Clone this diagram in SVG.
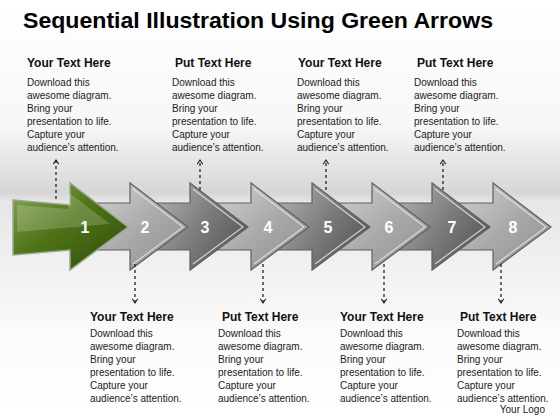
<svg xmlns="http://www.w3.org/2000/svg" width="560" height="420" viewBox="0 0 560 420">
<defs>
<linearGradient id="bg" x1="0" y1="0" x2="0" y2="1">
<stop offset="0" stop-color="#ffffff"/>
<stop offset="0.3" stop-color="#f7f7f7"/>
<stop offset="0.46" stop-color="#d6d6d6"/>
<stop offset="0.48" stop-color="#e6e6e6"/>
<stop offset="0.62" stop-color="#f0f0f0"/>
<stop offset="0.8" stop-color="#fbfbfb"/>
<stop offset="1" stop-color="#ffffff"/>
</linearGradient>
<linearGradient id="green" x1="0" y1="0" x2="1" y2="1">
<stop offset="0" stop-color="#8aa85a"/>
<stop offset="0.45" stop-color="#4f7418"/>
<stop offset="1" stop-color="#2f4a08"/>
</linearGradient>
<linearGradient id="light" x1="0" y1="0" x2="1" y2="1">
<stop offset="0" stop-color="#d2d2d2"/>
<stop offset="0.5" stop-color="#aaaaaa"/>
<stop offset="1" stop-color="#8e8e8e"/>
</linearGradient>
<linearGradient id="dark" x1="0" y1="0" x2="1" y2="0.6">
<stop offset="0" stop-color="#b5b5b5"/>
<stop offset="0.6" stop-color="#7a7a7a"/>
<stop offset="1" stop-color="#5a5a5a"/>
</linearGradient>
<marker id="ah" viewBox="0 0 10 10" refX="8" refY="5" markerWidth="7" markerHeight="7" orient="auto" markerUnits="userSpaceOnUse">
<path d="M2,1 L8,5 L2,9" fill="none" stroke="#222" stroke-width="1.6"/>
</marker>
</defs>
<style>
.t{font-family:"Liberation Sans",Arial,sans-serif;fill:#111}
.h{font-size:12px;font-weight:bold}
.b{font-size:10px;fill:#222}
.n{font-family:"Liberation Sans",Arial,sans-serif;font-size:16px;font-weight:bold;fill:#fff;text-anchor:middle}
.ar{stroke:#5e5e5e;stroke-width:1.2;stroke-linejoin:miter}
.hl{fill:none;stroke:#e8e8e8;stroke-width:1.2;opacity:0.8}
.con{fill:none;stroke:#222;stroke-width:1.3;stroke-dasharray:3,3}
</style>
<rect width="560" height="420" fill="url(#bg)"/>
<text x="23" y="28" class="t" style="font-size:22px;font-weight:bold;fill:#000" textLength="470" lengthAdjust="spacingAndGlyphs">Sequential Illustration Using Green Arrows</text>

<g id="arrow8"><path class="ar" fill="url(#light)" d="M458,203 L493,203 L493,183 L551,227 L493,270 L493,250 L458,250 Z"/><path class="hl" d="M496,189 L546,227 L496,264"/><text x="513" y="233" class="n">8</text></g>
<g id="arrow7"><path class="ar" fill="url(#dark)" d="M397,203 L432,203 L432,183 L490,227 L432,270 L432,250 L397,250 Z"/><path class="hl" d="M435,189 L485,227 L435,264"/><text x="452" y="233" class="n">7</text></g>
<g id="arrow6"><path class="ar" fill="url(#light)" d="M337,203 L372,203 L372,183 L430,227 L372,270 L372,250 L337,250 Z"/><path class="hl" d="M375,189 L425,227 L375,264"/><text x="389" y="233" class="n">6</text></g>
<g id="arrow5"><path class="ar" fill="url(#dark)" d="M277,203 L312,203 L312,183 L370,227 L312,270 L312,250 L277,250 Z"/><path class="hl" d="M315,189 L365,227 L315,264"/><text x="328" y="233" class="n">5</text></g>
<g id="arrow4"><path class="ar" fill="url(#light)" d="M216,203 L251,203 L251,183 L309,227 L251,270 L251,250 L216,250 Z"/><path class="hl" d="M254,189 L304,227 L254,264"/><text x="268" y="233" class="n">4</text></g>
<g id="arrow3"><path class="ar" fill="url(#dark)" d="M155,203 L190,203 L190,183 L248,227 L190,270 L190,250 L155,250 Z"/><path class="hl" d="M193,189 L243,227 L193,264"/><text x="205" y="233" class="n">3</text></g>
<g id="arrow2"><path class="ar" fill="url(#light)" d="M95,203 L130,203 L130,183 L188,227 L130,270 L130,250 L95,250 Z"/><path class="hl" d="M133,189 L183,227 L133,264"/><text x="145" y="233" class="n">2</text></g>
<g id="arrow1"><path stroke="#9aa88a" stroke-width="1.5" fill="url(#green)" d="M13,200 L70,205 L70,183 L128,227 L70,270 L70,250 L13,255 Z"/><path d="M17,205 L68,209 L68,192 L110,224 L17,232 Z" fill="#ffffff" opacity="0.18"/><text x="85" y="233" class="n">1</text></g>

<g id="connectors">
<path class="con" d="M56,199 L56,160" marker-end="url(#ah)"/>
<path class="con" d="M200,190 L200,160" marker-end="url(#ah)"/>
<path class="con" d="M326,190 L326,160" marker-end="url(#ah)"/>
<path class="con" d="M443,190 L443,160" marker-end="url(#ah)"/>
<path class="con" d="M135,264 L135,303" marker-end="url(#ah)"/>
<path class="con" d="M263,264 L263,303" marker-end="url(#ah)"/>
<path class="con" d="M384,264 L384,303" marker-end="url(#ah)"/>
<path class="con" d="M501,264 L501,303" marker-end="url(#ah)"/>
</g>

<g id="note1"><text x="27" y="67" class="t h">Your Text Here</text><text class="t b"><tspan x="27" y="86">Download this</tspan><tspan x="27" y="99">awesome diagram.</tspan><tspan x="27" y="112">Bring your</tspan><tspan x="27" y="125">presentation to life.</tspan><tspan x="27" y="138">Capture your</tspan><tspan x="27" y="151">audience’s attention.</tspan></text></g>
<g id="note2"><text x="175" y="67" class="t h">Put Text Here</text><text class="t b"><tspan x="172" y="86">Download this</tspan><tspan x="172" y="99">awesome diagram.</tspan><tspan x="172" y="112">Bring your</tspan><tspan x="172" y="125">presentation to life.</tspan><tspan x="172" y="138">Capture your</tspan><tspan x="172" y="151">audience’s attention.</tspan></text></g>
<g id="note3"><text x="298" y="67" class="t h">Your Text Here</text><text class="t b"><tspan x="297" y="86">Download this</tspan><tspan x="297" y="99">awesome diagram.</tspan><tspan x="297" y="112">Bring your</tspan><tspan x="297" y="125">presentation to life.</tspan><tspan x="297" y="138">Capture your</tspan><tspan x="297" y="151">audience’s attention.</tspan></text></g>
<g id="note4"><text x="417" y="67" class="t h">Put Text Here</text><text class="t b"><tspan x="414" y="86">Download this</tspan><tspan x="414" y="99">awesome diagram.</tspan><tspan x="414" y="112">Bring your</tspan><tspan x="414" y="125">presentation to life.</tspan><tspan x="414" y="138">Capture your</tspan><tspan x="414" y="151">audience’s attention.</tspan></text></g>

<g id="note5"><text x="90" y="321" class="t h">Your Text Here</text><text class="t b"><tspan x="90" y="337">Download this</tspan><tspan x="90" y="350">awesome diagram.</tspan><tspan x="90" y="363">Bring your</tspan><tspan x="90" y="376">presentation to life.</tspan><tspan x="90" y="389">Capture your</tspan><tspan x="90" y="402">audience’s attention.</tspan></text></g>
<g id="note6"><text x="222" y="321" class="t h">Put Text Here</text><text class="t b"><tspan x="218" y="337">Download this</tspan><tspan x="218" y="350">awesome diagram.</tspan><tspan x="218" y="363">Bring your</tspan><tspan x="218" y="376">presentation to life.</tspan><tspan x="218" y="389">Capture your</tspan><tspan x="218" y="402">audience’s attention.</tspan></text></g>
<g id="note7"><text x="340" y="321" class="t h">Your Text Here</text><text class="t b"><tspan x="340" y="337">Download this</tspan><tspan x="340" y="350">awesome diagram.</tspan><tspan x="340" y="363">Bring your</tspan><tspan x="340" y="376">presentation to life.</tspan><tspan x="340" y="389">Capture your</tspan><tspan x="340" y="402">audience’s attention.</tspan></text></g>
<g id="note8"><text x="460" y="321" class="t h">Put Text Here</text><text class="t b"><tspan x="457" y="337">Download this</tspan><tspan x="457" y="350">awesome diagram.</tspan><tspan x="457" y="363">Bring your</tspan><tspan x="457" y="376">presentation to life.</tspan><tspan x="457" y="389">Capture your</tspan><tspan x="457" y="402">audience’s attention.</tspan></text></g>

<text x="545" y="413" class="t b" text-anchor="end">Your Logo</text>
</svg>
